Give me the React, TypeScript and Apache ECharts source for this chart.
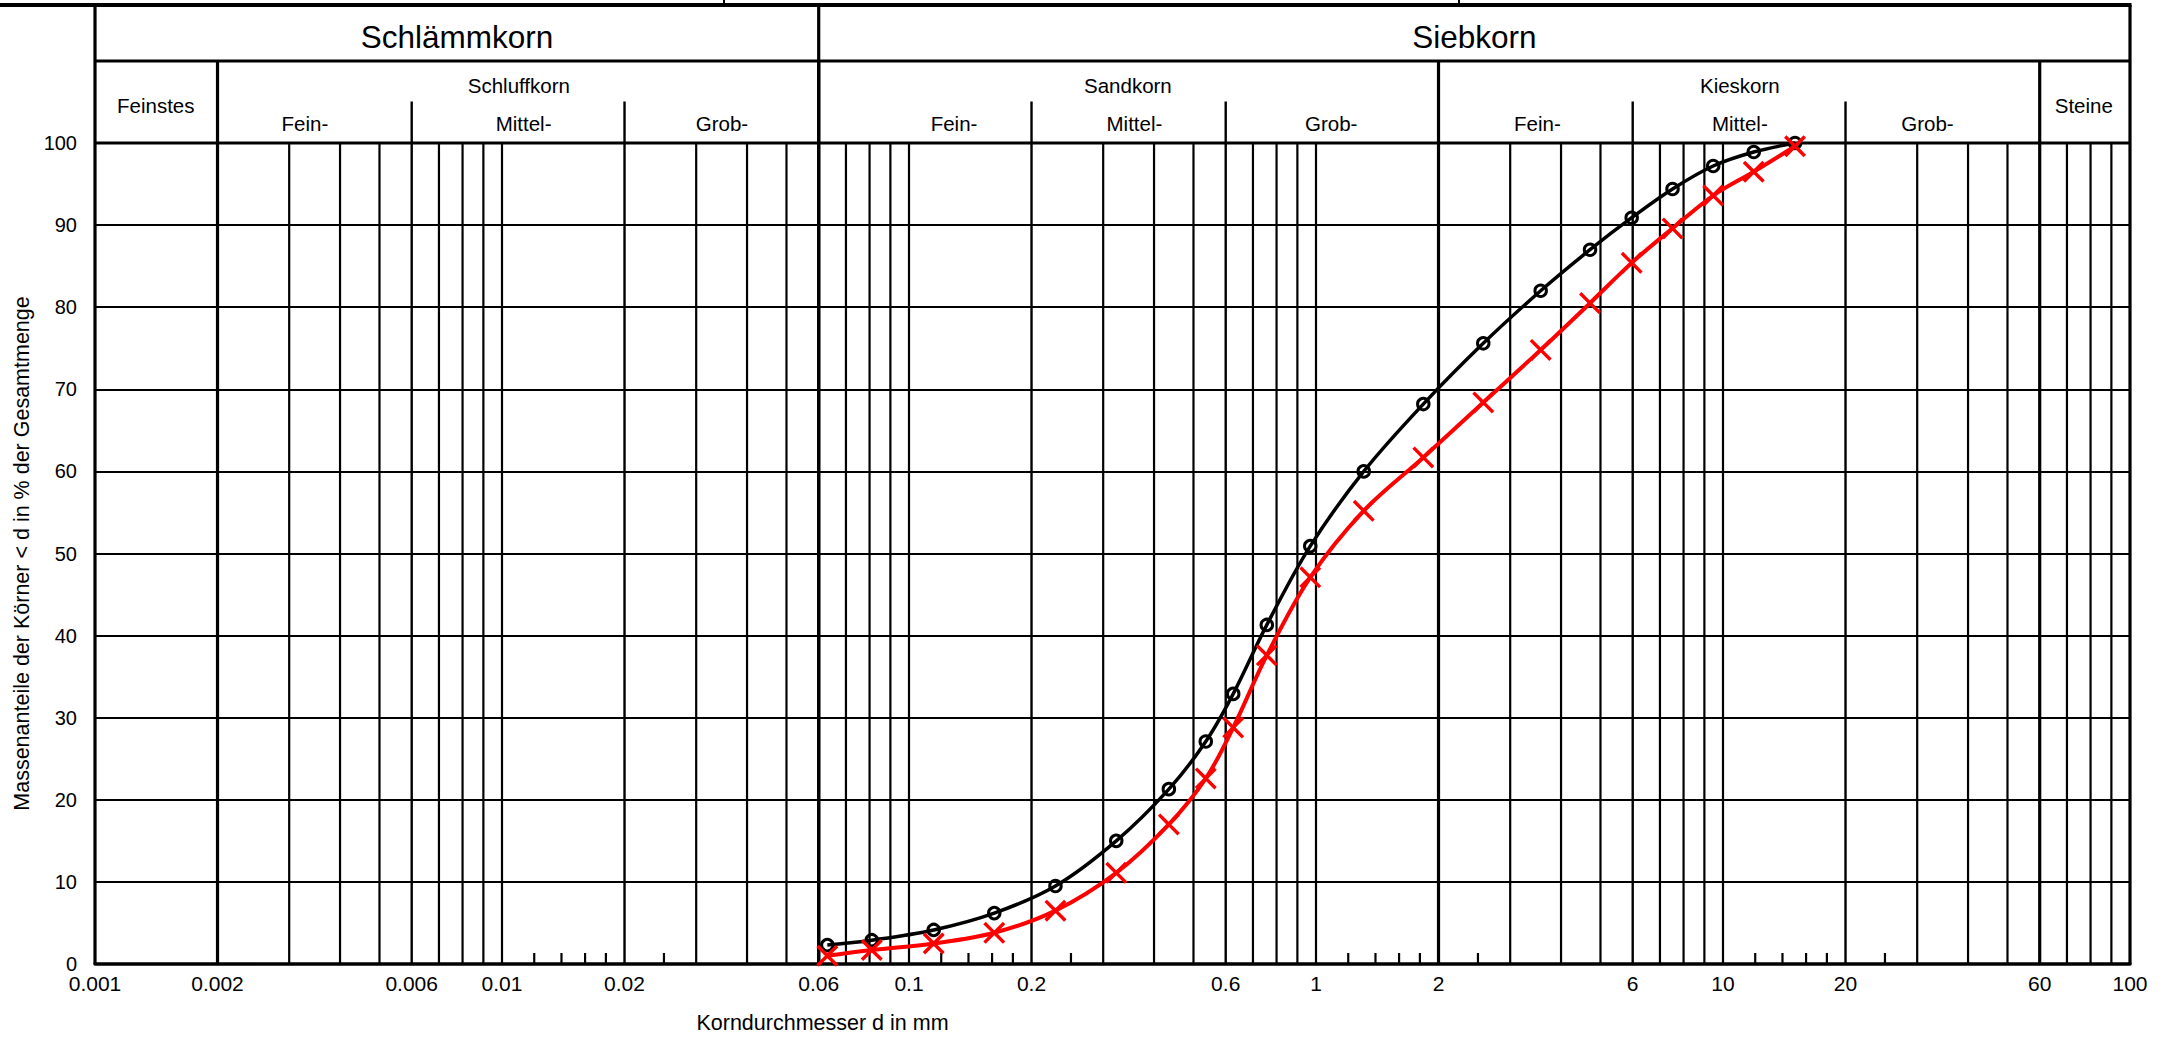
import React, { useEffect, useRef } from 'react';
import * as echarts from 'echarts';

// ---------- data ----------
const sieveSizes = [0.063, 0.081, 0.115, 0.162, 0.229, 0.323, 0.435, 0.536, 0.626, 0.757, 0.968, 1.31, 1.835, 2.576, 3.565, 4.713, 5.965, 7.516, 9.46, 11.9, 15.03];
const passingBlack = [2.3, 2.9, 4.15, 6.2, 9.5, 15.0, 21.3, 27.1, 32.9, 41.3, 50.9, 60.0, 68.2, 75.6, 82.0, 87.0, 90.9, 94.4, 97.2, 98.9, 100];
const passingRed = [1.0, 1.7, 2.5, 3.8, 6.5, 11.1, 17.0, 22.6, 28.8, 37.6, 47.1, 55.2, 61.7, 68.4, 74.8, 80.5, 85.4, 89.6, 93.6, 96.5, 99.6];

const xMin = 0.001;
const xMax = 100;
const xTickValues = [0.001, 0.002, 0.006, 0.01, 0.02, 0.06, 0.1, 0.2, 0.6, 1, 2, 6, 10, 20, 60, 100];
const xTickLabels = ['0.001', '0.002', '0.006', '0.01', '0.02', '0.06', '0.1', '0.2', '0.6', '1', '2', '6', '10', '20', '60', '100'];

const gridLineValues = [0.003, 0.004, 0.005, 0.007, 0.008, 0.009, 0.01, 0.03, 0.04, 0.05, 0.07, 0.08, 0.09, 0.1, 0.3, 0.4, 0.5, 0.7, 0.8, 0.9, 1, 3, 4, 5, 7, 8, 9, 10, 30, 40, 50, 70, 80, 90];
const subBoundaryValues = [0.006, 0.02, 0.2, 0.6, 6, 20];
const mainBoundaryValues = [0.002, 0.06, 2, 60];
const topBoundaryValues = [0.06];
const shortTickValues = [0.012, 0.014, 0.016, 0.018, 0.025, 0.12, 0.14, 0.16, 0.18, 0.25, 1.2, 1.4, 1.6, 1.8, 2.5, 12, 14, 16, 18, 25];

const topLabels = ['Schlämmkorn', 'Siebkorn'];
const topLabelAt = [0.00775, 2.45];
const groupLabels = ['Schluffkorn', 'Sandkorn', 'Kieskorn'];
const groupLabelAt = [0.011, 0.345, 11];
const sideLabels = ['Feinstes', 'Steine'];
const sideLabelAt = [0.00141, 77];
const subLabels = ['Fein-', 'Mittel-', 'Grob-', 'Fein-', 'Mittel-', 'Grob-', 'Fein-', 'Mittel-', 'Grob-'];
const subLabelAt = [0.00328, 0.0113, 0.0347, 0.129, 0.358, 1.09, 3.5, 11, 31.8];

const xAxisTitle = 'Korndurchmesser d in mm';
const yAxisTitle = 'Massenanteile der Körner < d in % der Gesamtmenge';

// ---------- styling ----------
const FONT = '"Liberation Sans", Arial, Helvetica, sans-serif';
const HDR_TOP = -138; // offsets from the 100 % line (px)
const HDR_ROW1 = -82;
const HDR_SUBTICK = -41.5;
const crossPath = 'path://M0,11L11,0L50,39L89,0L100,11L61,50L100,89L89,100L50,61L11,100L0,89L39,50Z';

function vLines(name: string, values: number[], width: number, topOffset: number | null, tickLen?: number) {
  return {
    type: 'custom',
    name,
    silent: true,
    clip: false,
    z: 1,
    xAxisIndex: 0,
    yAxisIndex: 0,
    data: values.map((v) => [v, 0]),
    renderItem: (params: any, api: any) => {
      const v = api.value(0);
      const p0 = api.coord([v, 0]);
      const p1 = api.coord([v, 100]);
      const yTop = tickLen != null ? p0[1] - tickLen : topOffset != null ? p1[1] + topOffset : p1[1];
      return {
        type: 'line',
        shape: { x1: p0[0], y1: p0[1], x2: p0[0], y2: yTop },
        style: { stroke: '#000', lineWidth: width },
      };
    },
  };
}

function labelSeries(name: string, labels: string[], at: number[], dy: number, fontSize: number) {
  return {
    type: 'custom',
    name,
    silent: true,
    clip: false,
    z: 6,
    xAxisIndex: 0,
    yAxisIndex: 0,
    data: at.map((v) => [v, 100]),
    renderItem: (params: any, api: any) => {
      const p = api.coord([api.value(0), 100]);
      return {
        type: 'text',
        x: p[0],
        y: p[1] + dy,
        style: {
          text: labels[params.dataIndex],
          fontSize,
          fontFamily: FONT,
          fill: '#000',
          align: 'center',
          verticalAlign: 'middle',
        },
      };
    },
  };
}

export default function App() {
  const ref = useRef<HTMLDivElement>(null);
  useEffect(() => {
    const chart = echarts.init(ref.current!, null, { renderer: 'svg' });
    const option: any = {
      animation: false,
      backgroundColor: '#fff',
      textStyle: { fontFamily: FONT },
      grid: { left: 95, right: 33, top: 143, bottom: 73, containLabel: false },
      xAxis: [
        {
          type: 'log',
          logBase: 10,
          min: xMin,
          max: xMax,
          position: 'bottom',
          axisLine: { show: true, onZero: false, lineStyle: { color: '#000', width: 3.5 } },
          axisTick: { show: false },
          axisLabel: { show: false },
          splitLine: { show: false },
          minorTick: { show: false },
          minorSplitLine: { show: false },
        },
        {
          type: 'value',
          min: Math.log10(xMin),
          max: Math.log10(xMax),
          position: 'bottom',
          axisLine: { show: false },
          axisTick: { show: false },
          splitLine: { show: false },
          name: xAxisTitle,
          nameLocation: 'middle',
          nameGap: 48,
          nameTextStyle: { fontSize: 21.5, color: '#000', fontFamily: FONT, padding: [0, 580, 0, 0] },
          axisLabel: {
            customValues: xTickValues.map((v) => Math.log10(v)),
            margin: 9,
            fontSize: 21,
            color: '#000',
            fontFamily: FONT,
            formatter: (val: number) => {
              let best = 0;
              xTickValues.forEach((t, i) => {
                if (Math.abs(Math.log10(t) - val) < Math.abs(Math.log10(xTickValues[best]) - val)) best = i;
              });
              return xTickLabels[best];
            },
          },
        },
      ],
      yAxis: {
        type: 'value',
        min: 0,
        max: 100,
        interval: 10,
        axisLine: { show: false },
        axisTick: { show: false },
        splitLine: { show: true, lineStyle: { color: '#000', width: 2.2 } },
        axisLabel: { fontSize: 20, color: '#000', margin: 18, fontFamily: FONT, padding: [0, 0, 12, 0] },
        name: yAxisTitle,
        nameLocation: 'middle',
        nameGap: 62,
        nameTextStyle: { fontSize: 21.5, color: '#000', fontFamily: FONT },
      },
      series: [
        vLines('grid', gridLineValues, 2.2, null),
        vLines('subBoundaries', subBoundaryValues, 2.4, HDR_SUBTICK),
        vLines('mainBoundaries', mainBoundaryValues, 3.2, HDR_ROW1),
        vLines('topBoundary', topBoundaryValues, 3.2, HDR_TOP),
        vLines('shortTicks', shortTickValues, 2.2, null, 11),
        {
          type: 'custom',
          name: 'frame',
          silent: true,
          clip: false,
          z: 2,
          data: [[xMin, 0]],
          renderItem: (params: any, api: any) => {
            const a0 = api.coord([xMin, 0]);
            const a1 = api.coord([xMin, 100]);
            const b0 = api.coord([xMax, 0]);
            const top = a1[1] + HDR_TOP;
            const row1 = a1[1] + HDR_ROW1;
            const st = { stroke: '#000', lineWidth: 3.2 };
            return {
              type: 'group',
              children: [
                { type: 'line', shape: { x1: 0, y1: top, x2: b0[0] + 1.5, y2: top }, style: { stroke: '#000', lineWidth: 4 } },
                { type: 'line', shape: { x1: a1[0], y1: row1, x2: b0[0], y2: row1 }, style: st },
                { type: 'line', shape: { x1: a1[0], y1: a1[1], x2: b0[0], y2: a1[1] }, style: st },
                { type: 'line', shape: { x1: a0[0], y1: a0[1], x2: a0[0], y2: top }, style: st },
                { type: 'line', shape: { x1: b0[0], y1: b0[1], x2: b0[0], y2: top }, style: st },
              ],
            };
          },
        },
        labelSeries('topLabels', topLabels, topLabelAt, -106, 31.5),
        labelSeries('groupLabels', groupLabels, groupLabelAt, -58, 20.5),
        labelSeries('sideLabels', sideLabels, sideLabelAt, -38, 20.5),
        labelSeries('subLabels', subLabels, subLabelAt, -20, 20.5),
        {
          type: 'line',
          name: 'Probe 1',
          data: sieveSizes.map((x, i) => [x, passingBlack[i]]),
          smooth: 0.35,
          clip: false,
          z: 10,
          symbol: 'circle',
          symbolSize: 11.5,
          lineStyle: { color: '#000', width: 3.5 },
          itemStyle: { color: 'rgba(0,0,0,0)', borderColor: '#000', borderWidth: 3 },
        },
        {
          type: 'line',
          name: 'Probe 2',
          data: sieveSizes.map((x, i) => [x, passingRed[i]]),
          smooth: 0.35,
          clip: false,
          z: 11,
          symbol: crossPath,
          symbolSize: 22,
          lineStyle: { color: '#ff0000', width: 4 },
          itemStyle: { color: '#ff0000' },
        },
      ],
      graphic: [
        { type: 'line', shape: { x1: 724, y1: 0, x2: 724, y2: 5 }, style: { stroke: '#000', lineWidth: 2 } },
        { type: 'line', shape: { x1: 1459, y1: 0, x2: 1459, y2: 5 }, style: { stroke: '#000', lineWidth: 2 } },
      ],
    };
    chart.setOption(option);
    return () => chart.dispose();
  }, []);
  return <div ref={ref} style={{ position: 'absolute', left: 0, top: 0, width: 2163, height: 1039, background: '#fff' }} />;
}
